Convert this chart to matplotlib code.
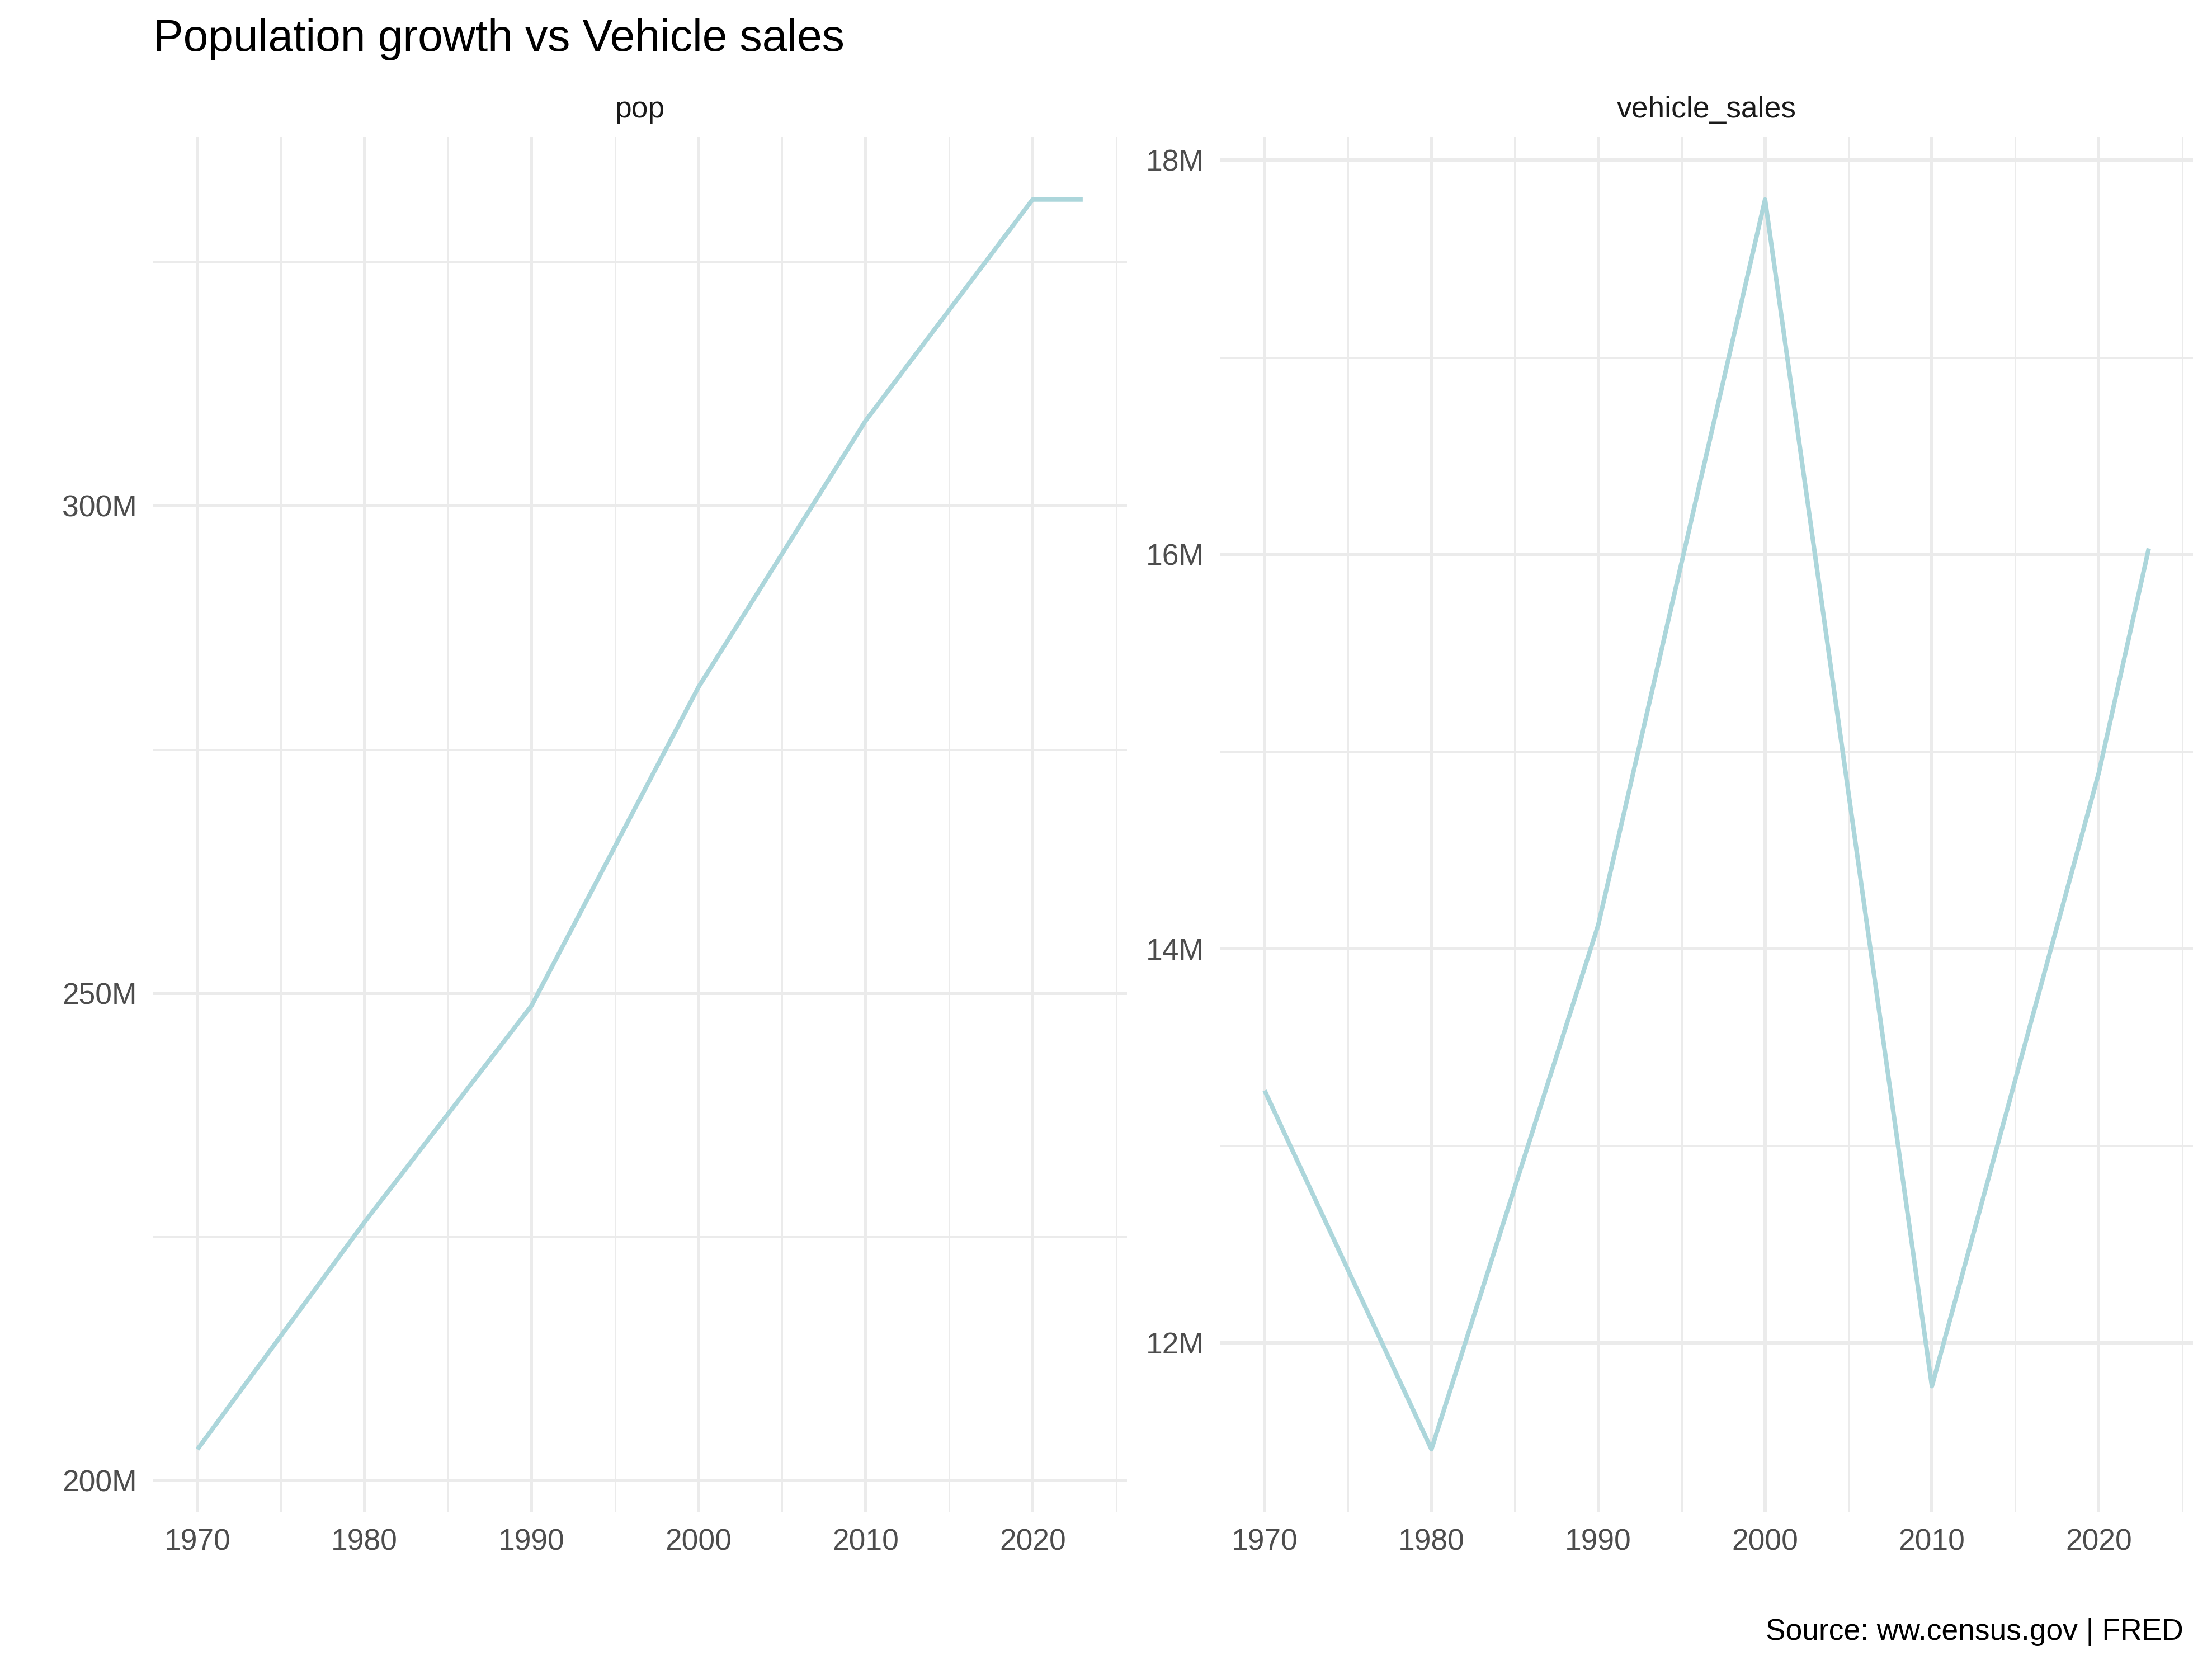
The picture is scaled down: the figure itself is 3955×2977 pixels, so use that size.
import matplotlib
matplotlib.use('Agg')
from matplotlib import pyplot as plt
from matplotlib.ticker import MultipleLocator, FuncFormatter

plt.rcParams['font.family'] = ['Liberation Sans', 'DejaVu Sans']

## data
years = [1970, 1980, 1990, 2000, 2010, 2020, 2023]
pop = [203.2e6, 226.5e6, 248.7e6, 281.4e6, 308.7e6, 331.4e6, 331.4e6]
vehicle_sales = [13.28e6, 11.46e6, 14.12e6, 17.80e6, 11.78e6, 14.89e6, 16.03e6]
panel_names = ['pop', 'vehicle_sales']

W, H = 3955, 2977
DPI = 300
fig = plt.figure(figsize=(W / DPI, H / DPI), dpi=DPI)

line_col = '#ACD6DB'
grid_col = '#EBEBEB'
txt_size = 12.8

# panel boxes in pixels (left, right), top/bottom shared
top_px, bot_px = 245, 2703
boxes = [(274, 2015), (2182, 3921)]

def expand(lo, hi, f=0.05):
    d = (hi - lo) * f
    return lo - d, hi + d

series = [pop, vehicle_sales]
majors = [50e6, 2e6]
minors = [25e6, 1e6]

for i in range(2):
    l, r = boxes[i]
    ax = fig.add_axes([l / W, (H - bot_px) / H, (r - l) / W, (bot_px - top_px) / H])
    ax.plot(years, series[i], color=line_col, lw=1.92, solid_joinstyle='round',
            solid_capstyle='butt', zorder=3)
    ax.set_xlim(*expand(min(years), max(years)))
    ax.set_ylim(*expand(min(series[i]), max(series[i])))
    ax.xaxis.set_major_locator(MultipleLocator(10))
    ax.xaxis.set_minor_locator(MultipleLocator(5))
    ax.yaxis.set_major_locator(MultipleLocator(majors[i]))
    ax.yaxis.set_minor_locator(MultipleLocator(minors[i]))
    ax.yaxis.set_major_formatter(FuncFormatter(lambda v, p: f'{v / 1e6:.0f}M'))
    ax.grid(which='major', color=grid_col, lw=1.44, zorder=0)
    ax.grid(which='minor', color=grid_col, lw=0.72, zorder=0)
    ax.set_axisbelow(True)
    for s in ax.spines.values():
        s.set_visible(False)
    ax.tick_params(which='both', length=0)
    ax.tick_params(axis='y', which='major', pad=6.96, labelsize=txt_size, labelcolor='#4D4D4D')
    ax.tick_params(axis='x', which='major', pad=7.2, labelsize=txt_size, labelcolor='#4D4D4D')
    ax.set_title(panel_names[i], fontsize=txt_size, color='#1A1A1A', pad=8.4)

fig.text(274 / W, 1 - 91 / H, 'Population growth vs Vehicle sales', fontsize=19.25,
         color='black', ha='left', va='baseline')
fig.text(3904 / W, 1 - 2932 / H, 'Source: ww.census.gov | FRED', fontsize=txt_size,
         color='black', ha='right', va='baseline')

fig.savefig('out.png', dpi=DPI, facecolor='white')
